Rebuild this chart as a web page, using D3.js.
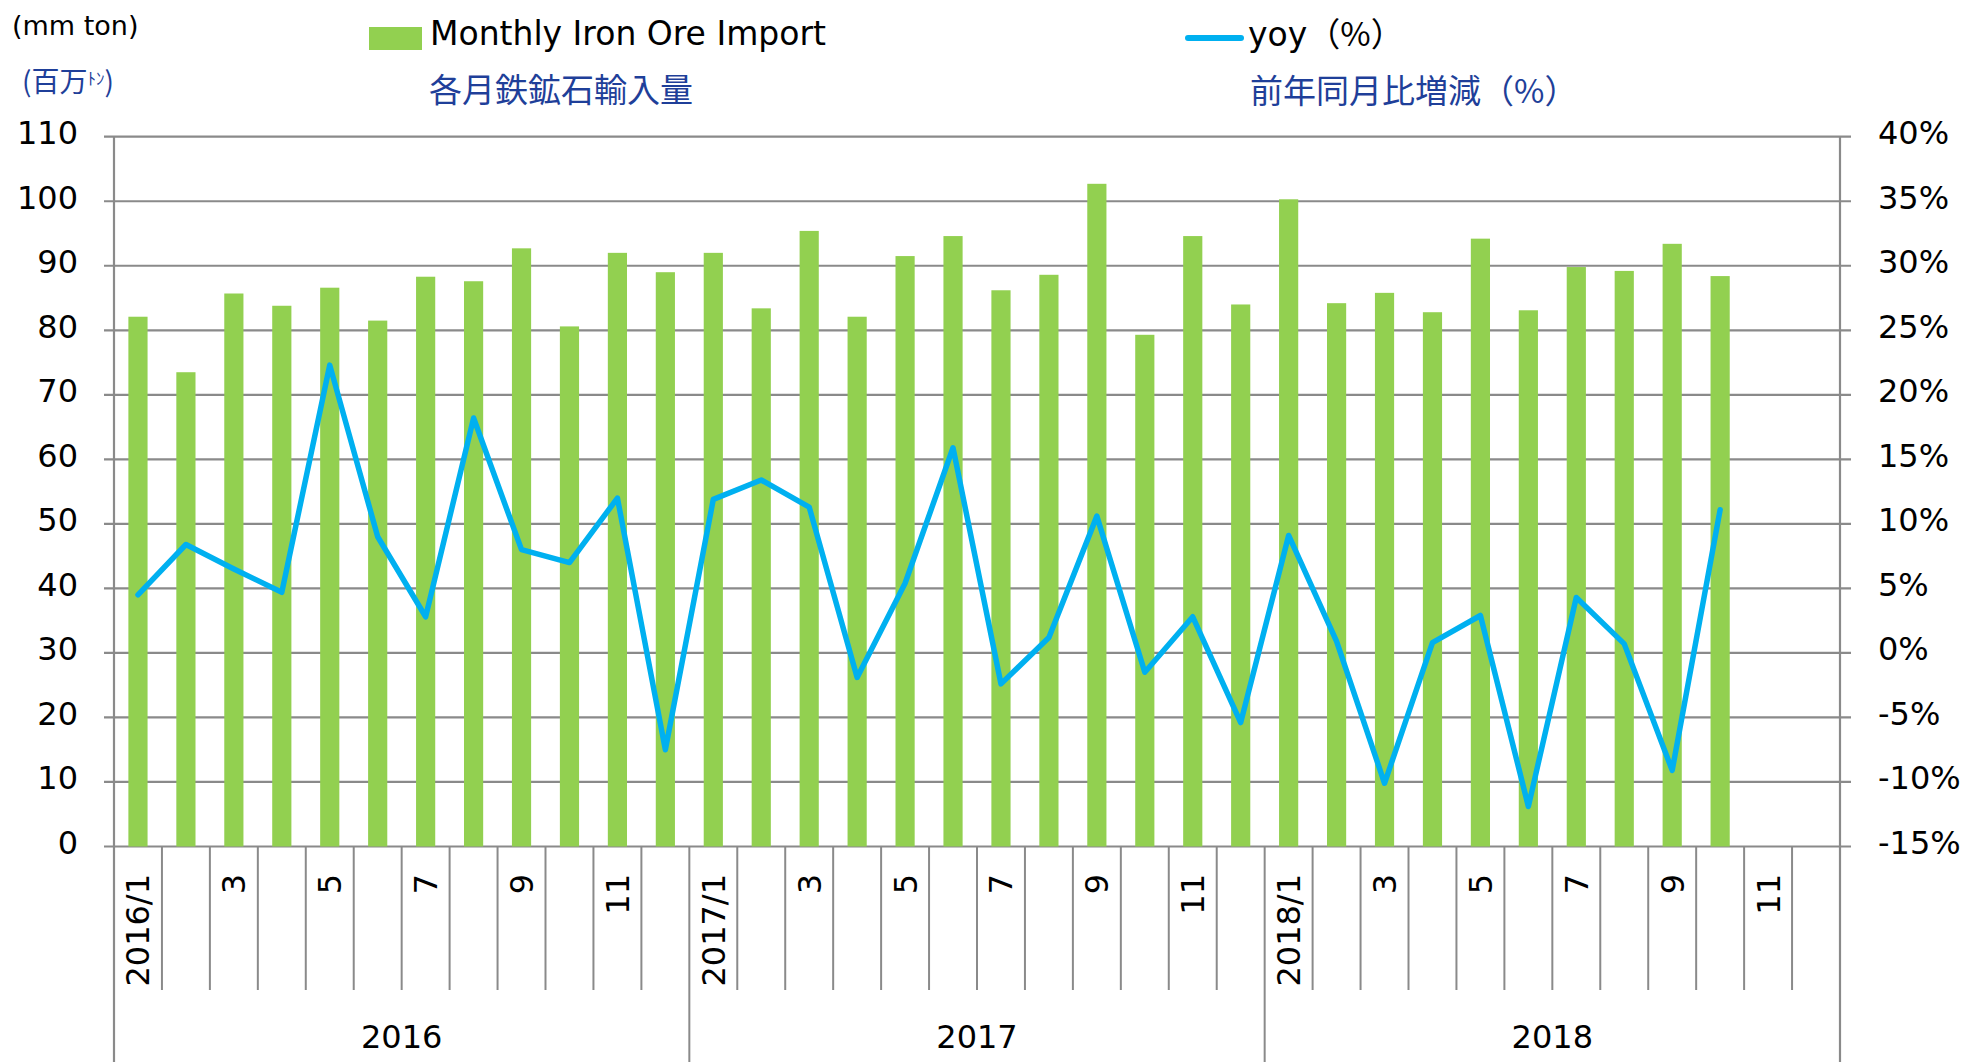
<!DOCTYPE html>
<html>
<head>
<meta charset="utf-8">
<script src="https://cdn.jsdelivr.net/npm/d3@7"></script>
<style>
  body { margin: 0; background: #fff; }
  text { font-family: "DejaVu Sans", Verdana, sans-serif; }
  .jp { font-family: "Noto Sans CJK JP", sans-serif; fill: #1f3f99; }
</style>
</head>
<body>
<div id="chart"></div>
<script>
// months 2016/1 .. 2018/12 (bars run to 2018/10)
var months = [];
[2016, 2017, 2018].forEach(function(y) {
    for (var m = 1; m <= 12; m++) months.push(y + "/" + m);
});
var monthLabels = [
    "2016/1", "", "3", "", "5", "", "7", "", "9", "", "11", "",
    "2017/1", "", "3", "", "5", "", "7", "", "9", "", "11", "",
    "2018/1", "", "3", "", "5", "", "7", "", "9", "", "11", ""
];
var years = ["2016", "2017", "2018"];

// monthly iron ore import, mm ton
var imports = [
    82.1, 73.5, 85.7, 83.8, 86.6, 81.5, 88.3, 87.6, 92.7, 80.6, 92.0, 89.0,
    92.0, 83.4, 95.4, 82.1, 91.5, 94.6, 86.2, 88.6, 102.7, 79.3, 94.6, 84.0,
    100.3, 84.2, 85.8, 82.8, 94.2, 83.1, 89.8, 89.2, 93.4, 88.4
];
// yoy change, %
var yoy = [
    4.5, 8.4, 6.5, 4.7, 22.3, 9.0, 2.8, 18.2, 8.0, 7.0, 12.0, -7.5,
    11.9, 13.4, 11.3, -1.9, 5.4, 15.9, -2.4, 1.2, 10.6, -1.5, 2.8, -5.4,
    9.1, 0.9, -10.1, 0.8, 2.9, -11.9, 4.3, 0.7, -9.1, 11.1
];

var leftTicks = d3.range(0, 111, 10);
var rightTicks = d3.range(-15, 41, 5);

var W = 1971, H = 1062;
var plot = { left: 114, right: 1840, top: 136.7, bottom: 846.5 };
var grey = "#8a8a8a";

var svg = d3.select("#chart")
  .append("svg")
    .attr("width", W)
    .attr("height", H);

var x = d3.scaleBand()
    .domain(months)
    .range([plot.left, plot.right])
    .paddingInner(0.6)
    .paddingOuter(0.3);

var y = d3.scaleLinear()
    .domain([0, 110])
    .range([plot.bottom, plot.top]);

var y2 = d3.scaleLinear()
    .domain([-15, 40])
    .range([plot.bottom, plot.top]);

var step = x.step();
var slotLeft = function(i) { return plot.left + i * step; };

// gridlines (with short outer ticks on both sides)
svg.append("g")
    .selectAll("line")
    .data(leftTicks)
    .enter()
    .append("line")
        .attr("x1", plot.left - 10)
        .attr("x2", plot.right + 11)
        .attr("y1", function(d) { return y(d); })
        .attr("y2", function(d) { return y(d); })
        .attr("stroke", grey)
        .attr("stroke-width", 2.2);

// bars
svg.append("g")
    .selectAll("rect")
    .data(imports)
    .enter()
    .append("rect")
        .attr("x", function(d, i) { return x(months[i]); })
        .attr("y", function(d) { return y(d); })
        .attr("width", x.bandwidth())
        .attr("height", function(d) { return y(0) - y(d); })
        .attr("fill", "#92d050");

// vertical axis lines
svg.append("line")
    .attr("x1", plot.left).attr("x2", plot.left)
    .attr("y1", plot.top).attr("y2", H)
    .attr("stroke", grey).attr("stroke-width", 2.2);
svg.append("line")
    .attr("x1", plot.right).attr("x2", plot.right)
    .attr("y1", plot.top).attr("y2", H)
    .attr("stroke", grey).attr("stroke-width", 2.2);

// category separators: months short, years long
svg.append("g")
    .selectAll("line")
    .data(d3.range(1, months.length))
    .enter()
    .append("line")
        .attr("x1", function(i) { return slotLeft(i); })
        .attr("x2", function(i) { return slotLeft(i); })
        .attr("y1", plot.bottom)
        .attr("y2", function(i) { return i % 12 === 0 ? H : 990; })
        .attr("stroke", grey)
        .attr("stroke-width", 2);

// yoy line
var line = d3.line()
    .x(function(d, i) { return x(months[i]) + x.bandwidth() / 2; })
    .y(function(d) { return y2(d); });

svg.append("path")
    .datum(yoy)
    .attr("d", line)
    .attr("fill", "none")
    .attr("stroke", "#00b0f0")
    .attr("stroke-width", 5.5)
    .attr("stroke-linejoin", "round")
    .attr("stroke-linecap", "round");

// left axis labels
svg.append("g")
    .selectAll("text")
    .data(leftTicks)
    .enter()
    .append("text")
        .attr("x", 78)
        .attr("y", function(d) { return y(d) - 4; })
        .attr("dy", "0.36em")
        .attr("text-anchor", "end")
        .style("font-size", "32px")
        .text(function(d) { return d; });

// right axis labels
svg.append("g")
    .selectAll("text")
    .data(rightTicks)
    .enter()
    .append("text")
        .attr("x", 1878)
        .attr("y", function(d) { return y2(d) - 4; })
        .attr("dy", "0.36em")
        .style("font-size", "32px")
        .text(function(d) { return d + "%"; });

// month labels, rotated
svg.append("g")
    .selectAll("text")
    .data(monthLabels)
    .enter()
    .append("text")
        .attr("transform", function(d, i) {
            return "translate(" + (x(months[i]) + x.bandwidth() / 2 + 11.5) + ",874) rotate(-90)";
        })
        .attr("text-anchor", "end")
        .style("font-size", "32px")
        .text(function(d) { return d; });

// year labels
svg.append("g")
    .selectAll("text")
    .data(years)
    .enter()
    .append("text")
        .attr("x", function(d, i) { return slotLeft(i * 12 + 6); })
        .attr("y", 1048)
        .attr("text-anchor", "middle")
        .style("font-size", "32px")
        .text(function(d) { return d; });

// unit labels
svg.append("text")
    .attr("x", 12).attr("y", 35)
    .style("font-size", "27px")
    .text("(mm ton)");

var unitJp = svg.append("text")
    .attr("class", "jp")
    .attr("x", 22).attr("y", 92)
    .style("font-size", "28px");
unitJp.append("tspan").text("(百万");
unitJp.append("tspan").attr("dy", -7).style("font-size", "17px").text("ﾄﾝ");
unitJp.append("tspan").attr("dy", 7).text(")");

// legend
svg.append("rect")
    .attr("x", 369).attr("y", 27)
    .attr("width", 53).attr("height", 23)
    .attr("fill", "#92d050");
svg.append("text")
    .attr("x", 430).attr("y", 45)
    .style("font-size", "33px")
    .text("Monthly Iron Ore Import");
svg.append("text")
    .attr("class", "jp")
    .attr("x", 429).attr("y", 102)
    .style("font-size", "33px")
    .text("各月鉄鉱石輸入量");

svg.append("line")
    .attr("x1", 1188).attr("x2", 1241)
    .attr("y1", 38).attr("y2", 38)
    .attr("stroke", "#00b0f0")
    .attr("stroke-width", 6)
    .attr("stroke-linecap", "round");
var yoyLabel = svg.append("text")
    .attr("x", 1248).attr("y", 46)
    .style("font-size", "33px");
yoyLabel.append("tspan").text("yoy");
yoyLabel.append("tspan").style("font-family", "Noto Sans CJK JP").text("（%）");
svg.append("text")
    .attr("class", "jp")
    .attr("x", 1250).attr("y", 103)
    .style("font-size", "33px")
    .text("前年同月比増減（%）");
</script>
</body>
</html>
